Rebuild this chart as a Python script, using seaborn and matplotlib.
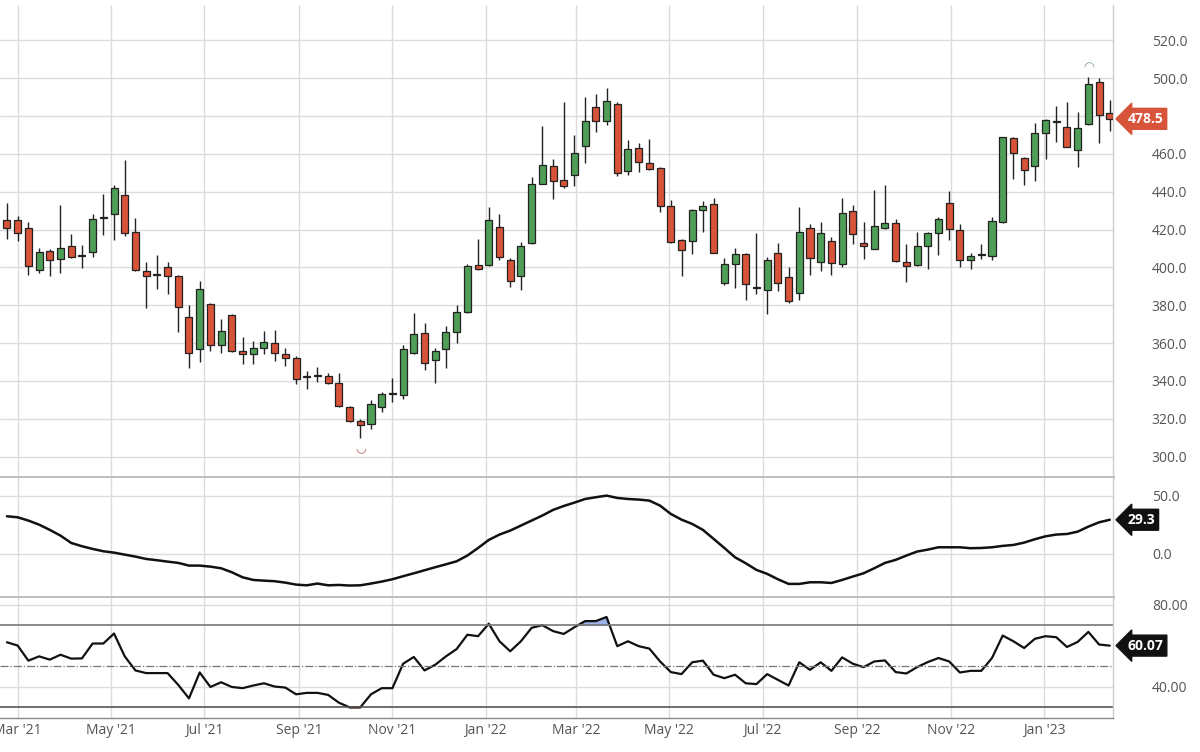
import numpy as np
import pandas as pd
import seaborn as sns
import matplotlib
matplotlib.use("Agg")
import matplotlib.pyplot as plt
import matplotlib.dates as mdates

# weekly candles, Feb 2021 - Feb 2023
opens = [425, 425, 421, 398.6, 408.8, 404.7, 411.4, 406.5, 408, 426, 428, 438, 418.8, 398.3, 396, 400,
         395.6, 374, 356.7, 380.7, 359, 374.6, 356, 354.2, 357.6, 360, 354.4, 352.3, 342, 342.7, 342.7,
         338.8, 326.5, 319, 317.4, 326, 333, 332.7, 355, 365.5, 351, 356.7, 366, 376.4, 401.3, 401.3,
         421.3, 403.8, 395.5, 412.9, 444.2, 453.8, 446.3, 449, 464.4, 484.9, 477.2, 486.3, 451.2, 463,
         455.4, 452.4, 432.4, 414.3, 414, 430.1, 433.6, 391.8, 402, 406.9, 389.2, 388.3, 407.6, 395,
         386.7, 420.8, 402.7, 413.8, 401.8, 429.6, 412.9, 409.9, 421, 423.4, 403, 401.1, 411.5, 418.2,
         434.2, 420, 404.1, 406.4, 406, 424, 468.4, 457.9, 453.6, 471.2, 477, 474, 462, 475.8, 498.2, 481.4]
closes = [421, 418, 401, 408, 403.9, 410, 405.3, 406, 425.8, 426.6, 441.7, 418.4, 398.8, 395.3, 396.2,
          395.3, 379, 355, 388.6, 359, 366.3, 356, 354, 357.6, 360.4, 355, 352.3, 341, 342.8, 342.5, 339,
          327, 319, 316.9, 327.7, 333, 333.3, 356.7, 364.8, 349.7, 356, 366, 376.6, 400.6, 399, 425.2,
          405.5, 392.9, 411.5, 444.2, 454.2, 445.9, 442.8, 460.5, 477.2, 477.2, 488, 450, 462.6, 455.7,
          452.2, 432.4, 413.4, 409.4, 430.1, 432.6, 407.8, 402, 407.3, 391, 389.4, 404.1, 391.8, 382.2,
          418.7, 405.2, 418.2, 402.5, 428.7, 417.8, 411.1, 422, 423.4, 403.2, 401, 411.3, 418.2, 425.7,
          420.5, 403.8, 406.2, 406.6, 424.3, 468.7, 460.3, 451.5, 471.2, 477.9, 477.2, 463.8, 473.7,
          496.8, 480.5, 478.5]
highs = [434, 427, 424, 410.5, 409.5, 433, 417.5, 412, 428.4, 439, 443.3, 457, 426, 403, 406.7, 403,
         396, 380, 392.6, 381, 373, 375.5, 363.5, 361, 366.5, 367, 357.6, 353, 345.5, 347.6, 344.4, 344,
         327, 320, 329.7, 334.4, 341.4, 359, 376, 370.8, 357.4, 369, 380, 402, 415, 431.9, 428.4, 405,
         413.4, 447.7, 474.9, 457.3, 487.2, 470, 490, 491.6, 494.7, 487.2, 467.3, 465.8, 467.9, 453,
         435.4, 415, 431, 435, 436.6, 405, 410.4, 407.5, 418.2, 405.5, 412.9, 400, 431.9, 422.7, 424,
         416, 436.8, 432.8, 424, 441, 443.8, 425.7, 412.2, 418.7, 418.5, 426.6, 440.3, 423, 407.6, 412.2,
         426.6, 469, 468.8, 458.2, 476.3, 478.4, 485.4, 487.2, 481.9, 500.7, 500, 488.6]
lows = [415, 414, 396, 397, 395.6, 397, 404.8, 399.5, 405.6, 417, 414.4, 416.7, 398, 378.4, 388.8, 386,
        365.8, 347, 350, 355.6, 355, 355.5, 349, 349, 354, 350.5, 347.7, 338.6, 335.6, 339.5, 338.5,
        326.5, 318.5, 309.8, 314.6, 323.5, 329, 330.4, 354, 346, 338.8, 347, 360, 376, 398.5, 401, 404,
        389.7, 388, 412.5, 444, 436, 442, 443, 455, 471.7, 475, 448.2, 449, 450.3, 451.5, 429.2, 413,
        395.3, 407.3, 418.7, 407.5, 390.6, 389.2, 383, 386, 375.3, 387.6, 381.3, 382.7, 395.9, 398,
        395.9, 400.3, 412.6, 404.6, 409.5, 420.4, 402.8, 392.4, 400.8, 399.4, 406.8, 414.3, 400, 399.4,
        404.6, 403.8, 423.6, 446.8, 443.8, 445.4, 457.3, 466.5, 463.5, 453, 475.5, 465.6, 472.3]

# middle oscillator
osc = [32.3, 31.4, 28.6, 25.1, 20.6, 15.7, 9.4, 6.6, 4.3, 2.3, 1.1, -0.6, -2.3, -4.3, -5.4, -6.6, -7.7,
       -10, -10, -10.9, -12.3, -15.7, -20, -22.3, -22.9, -23.4, -24.6, -26.3, -26.9, -25.4, -26.9, -26.6,
       -27.1, -26.9, -25.4, -23.7, -21.7, -19.1, -16.6, -14, -11.4, -8.9, -6.3, -1.4, 5.1, 12, 16.6, 20,
       24.3, 28.6, 32.9, 37.7, 41.1, 44, 47.1, 48.6, 50, 48, 47.1, 46.6, 45.7, 41.4, 34.3, 29.4, 25.7,
       20.6, 12.9, 5.1, -2.9, -8, -13.7, -17.1, -21.7, -25.7, -25.7, -24.3, -24.3, -24.9, -22.3, -19.4,
       -16.6, -12.3, -7.7, -5.1, -1.4, 2, 3.7, 5.7, 5.7, 5.7, 4.9, 5.1, 5.7, 6.9, 7.7, 9.7, 12.6, 15.1,
       16.6, 17.1, 19.1, 23.4, 27.1, 29.3]

# RSI
rsi = [61.7, 60.1, 52.7, 54.8, 53.2, 55.6, 53.7, 53.8, 61.1, 61.1, 66, 54.8, 47.9, 46.6, 46.6, 46.6,
       40.8, 34.2, 46.9, 39.8, 42.1, 39.8, 39.2, 40.5, 41.6, 40, 39.5, 36.2, 36.9, 36.9, 35.9, 32.1, 29.8,
       29.8, 36.2, 39.2, 39.2, 51.2, 54.5, 47.9, 50.7, 54.8, 58.4, 65.4, 64.7, 70.8, 62.2, 57.3, 62.2,
       68.8, 70.1, 67.2, 65.8, 69.1, 72.1, 72.1, 74.1, 59.8, 62.2, 59.8, 58.6, 52.3, 47.1, 46.1, 51.9,
       52.7, 45.8, 44.1, 45.8, 41.6, 41.2, 46.1, 43.3, 40.5, 51.9, 48.2, 51.9, 47.7, 54.3, 51.2, 49.5,
       52.3, 52.8, 47.1, 46.4, 49.5, 52, 54, 52.3, 46.9, 47.7, 47.7, 54, 65, 62.2, 58.9, 63.4, 64.7, 64.2,
       59.4, 61.9, 66.8, 60.6, 60.07]

price_ticks = [300, 320, 340, 360, 380, 400, 420, 440, 460, 480, 500, 520]
osc_ticks = [0, 50]
rsi_ticks = [40, 80]
month_ticks = ["2021-03-01", "2021-05-01", "2021-07-01", "2021-09-01", "2021-11-01", "2022-01-01",
               "2022-03-01", "2022-05-01", "2022-07-01", "2022-09-01", "2022-11-01", "2023-01-01"]

dates = pd.date_range("2021-02-22", periods=len(opens), freq="7D")
df = pd.DataFrame({"date": dates, "open": opens, "close": closes, "high": highs, "low": lows,
                   "osc": osc, "rsi": rsi})

GREEN = "#4f9e58"
RED = "#d7533a"
GRID = "#dcdcdc"
TXT = "#555555"

sns.set_theme(style="white", rc={"font.family": "Open Sans"})
fig = plt.figure(figsize=(12, 7.52), dpi=100)
W = 0.9275
ax1 = fig.add_axes([0, 0.366, W, 0.627])
ax2 = fig.add_axes([0, 0.206, W, 0.159])
ax3 = fig.add_axes([0, 0.045, W, 0.160])

dn = mdates.date2num(df["date"])
x0 = dn[0] - 0.65 * 7
x1 = dn[0] + 103.3 * 7
mt = [mdates.date2num(pd.Timestamp(m)) for m in month_ticks]

# candles
up = df["close"] >= df["open"]
cols = np.where(up, GREEN, RED)
ax1.vlines(dn, df["low"], df["high"], color="#222222", lw=1, zorder=2)
body = (df["close"] - df["open"]).abs().clip(lower=0.6)
ax1.bar(dn, body, bottom=np.minimum(df["open"], df["close"]), width=4.6, color=cols,
        edgecolor="#222222", linewidth=0.9, zorder=3)
ax1.text(dn[33], df["low"][33] - 2, "◡", ha="center", va="top", color="#c06060", fontsize=9,
         family="DejaVu Sans")
ax1.text(dn[101], df["high"][101] + 1, "◠", ha="center", va="bottom", color="#7aa383", fontsize=9,
         family="DejaVu Sans")
ax1.set_ylim(289.4, 538.5)
ax1.set_yticks(price_ticks)

sns.lineplot(x=dn, y=df["osc"], ax=ax2, color="#111111", lw=1.8)
ax2.set_ylim(-37, 65.5)
ax2.set_yticks(osc_ticks)

sns.lineplot(x=dn, y=df["rsi"], ax=ax3, color="#111111", lw=1.6)
r = df["rsi"].to_numpy()
ax3.fill_between(dn, 70, r, where=r > 70, color="#3a62d6", alpha=0.5, interpolate=True)
ax3.fill_between(dn, 30, r, where=r < 30, color="#d83a2a", alpha=0.6, interpolate=True)
ax3.axhline(70, color="#777777", lw=1.2)
ax3.axhline(30, color="#555555", lw=1.2)
ax3.axhline(50, color="#777777", lw=0.9, ls="-.")
ax3.set_ylim(24.5, 83.5)
ax3.set_yticks(rsi_ticks)

for ax, fmt in [(ax1, "{:.1f}"), (ax2, "{:.1f}"), (ax3, "{:.2f}")]:
    ax.set_xlim(x0, x1)
    ax.set_xticks(mt)
    ax.grid(True, color=GRID, lw=1)
    ax.set_axisbelow(True)
    ax.yaxis.tick_right()
    ax.set_yticklabels([fmt.format(v) for v in ax.get_yticks()], color=TXT, fontsize=10)
    ax.tick_params(axis="y", length=0, pad=28)
    ax.tick_params(axis="x", length=0)
    ax.set_xlabel("")
    ax.set_ylabel("")
    for s in ["top", "left"]:
        ax.spines[s].set_visible(False)
    ax.spines["right"].set_color("#cccccc")
    ax.spines["bottom"].set_color("#bbbbbb")
    ax.spines["bottom"].set_linewidth(2)
    ax.spines["right"].set_linewidth(1)

# the last-price box covers the 480.0 label in the original
ax1.set_yticklabels(["" if v == 480 else "{:.1f}".format(v) for v in price_ticks], color=TXT, fontsize=10)
ax1.set_xticklabels([])
ax2.set_xticklabels([])
ax3.set_xticklabels([pd.Timestamp(m).strftime("%b '%y") for m in month_ticks], color=TXT, fontsize=10)
ax3.spines["bottom"].set_linewidth(1)
ax3.spines["bottom"].set_color("#888888")

# last value labels
for ax, val, txt, col in [(ax1, closes[-1], "478.5", RED), (ax2, osc[-1], "29.3", "#111111"),
                          (ax3, rsi[-1], "60.07", "#111111")]:
    ax.annotate(txt, xy=(1.013, val), xycoords=("axes fraction", "data"), ha="left", va="center",
                color="white", fontsize=10, fontweight="bold",
                bbox=dict(boxstyle="larrow,pad=0.25", fc=col, ec=col))

fig.savefig("out.png", dpi=100)
